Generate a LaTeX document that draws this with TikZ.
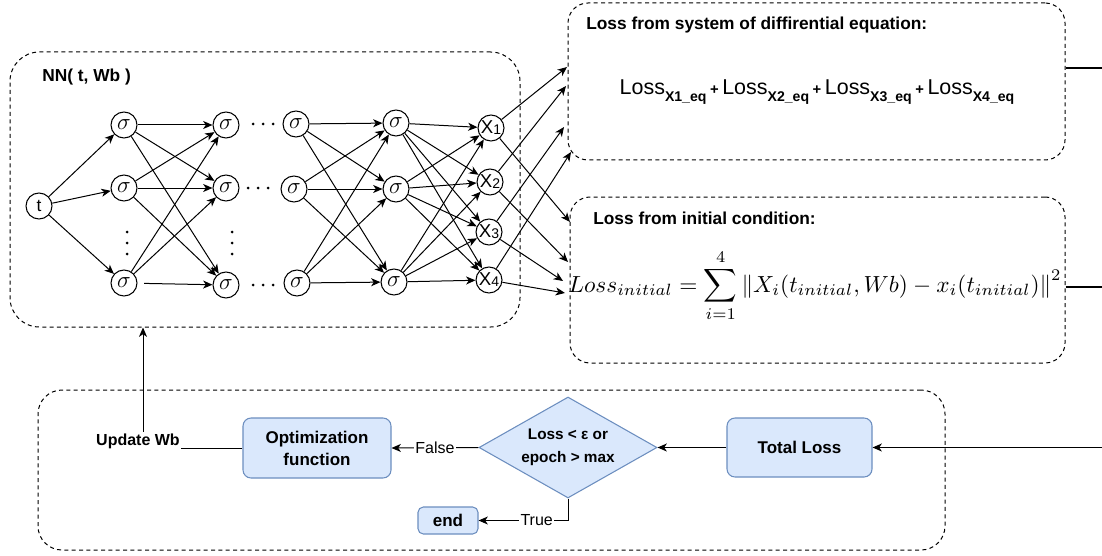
\documentclass[tikz,border=0pt]{standalone}
\usepackage{fontspec}
\setmainfont{Liberation Sans}
\usepackage{amsmath}
\usetikzlibrary{arrows.meta,shapes.geometric,calc}
\definecolor{bfill}{HTML}{DAE8FC}
\definecolor{bdraw}{HTML}{6C8EBF}
\newcommand{\lsub}[1]{\raisebox{-0.55ex}{\fontsize{10.5}{12}\selectfont\bfseries #1}}
\newcommand{\xn}[1]{{\fontsize{14}{15}\selectfont X}\raisebox{-0.1ex}{\fontsize{10.5}{11}\selectfont #1}}
\newcommand{\pls}{\,{\fontsize{11}{12}\selectfont\bfseries +}\,}
\newcommand{\sg}{{\fontsize{16}{18}\selectfont$\sigma$}}
\begin{document}
\begin{tikzpicture}[x=0.75pt,y=-0.75pt,
  neuron/.style={circle,draw,line width=0.8pt,minimum size=19.5pt,inner sep=0pt,font=\fontsize{13}{15}\selectfont},
  conn/.style={-{Stealth[length=7pt,width=6pt,inset=2pt]},line width=0.75pt},
  plain/.style={line width=0.8pt},
  grp/.style={draw,dash pattern=on 3pt off 2.5pt,line width=0.75pt,inner sep=0pt},
  fbox/.style={draw=bdraw,fill=bfill,rounded corners=6pt,line width=0.8pt,align=center,inner sep=0pt,font=\fontsize{12.75}{16.5}\selectfont\bfseries},
  elabel/.style={fill=white,inner sep=1pt,font=\fontsize{12}{14}\selectfont},
  ttl/.style={anchor=west,inner sep=0pt,font=\fontsize{13}{15}\selectfont\bfseries},
]
\useasboundingbox (0,0) rectangle (1102,556);

% group frames
\node[grp,rounded corners=22pt,minimum width=382.5pt,minimum height=206.25pt] (nnbox) at (265,189.5) {};
\node[grp,rounded corners=15pt,minimum width=372.75pt,minimum height=117.75pt] (lossA) at (816.5,81.5) {};
\node[grp,rounded corners=15pt,minimum width=371.25pt,minimum height=124.5pt] (lossB) at (817.5,280) {};
\node[grp,rounded corners=18pt,minimum width=680.25pt,minimum height=120pt] (loop) at (491.5,470) {};

% titles
\node[ttl] (nntitle) at (42,77) {NN( t, Wb )};
\node[ttl] (titleA) at (586,25) {Loss from system of diffirential equation:};
\node[ttl] (titleB) at (593,218) {Loss from initial condition:};

% formulas
\node[inner sep=0pt] (f1) at (817,92) {\resizebox{296pt}{!}{\fontsize{16}{18}\selectfont Loss\lsub{X1\_eq}\pls Loss\lsub{X2\_eq}\pls Loss\lsub{X3\_eq}\pls Loss\lsub{X4\_eq}}};
\node[inner sep=0pt] (f2) at (815,286) {\resizebox{370pt}{!}{$\displaystyle Loss_{initial}=\sum_{i=1}^{4}\left\|X_i(t_{initial},Wb)-x_i(t_{initial})\right\|^2$}};

% neurons
\node[neuron] (t) at (39,206) {t};
\node[neuron] (a1) at (124,125) {\sg};
\node[neuron] (a2) at (124,188) {\sg};
\node[neuron] (a3) at (124,283) {\sg};
\node[neuron] (b1) at (226,125) {\sg};
\node[neuron] (b2) at (226,188) {\sg};
\node[neuron] (b3) at (226,285) {\sg};
\node[neuron] (c1) at (296,124) {\sg};
\node[neuron] (c2) at (294,189) {\sg};
\node[neuron] (c3) at (297,283) {\sg};
\node[neuron] (d1) at (396,123) {\sg};
\node[neuron] (d2) at (396,189) {\sg};
\node[neuron] (d3) at (394,282) {\sg};
\node[neuron] (x1) at (491,128) {\xn{1}};
\node[neuron] (x2) at (490,182) {\xn{2}};
\node[neuron] (x3) at (489,232) {\xn{3}};
\node[neuron] (x4) at (489,280) {\xn{4}};

% ellipsis dots
\foreach \y in {232,243,254} {\fill (127,\y) circle (1.5); \fill (232,\y) circle (1.5);}
\foreach \x in {253,263,273} {\fill (\x,124) circle (1.5); \fill (\x,285) circle (1.5);}
\foreach \x in {248,258,268} {\fill (\x,188) circle (1.5);}

% connections
\foreach \d in {a1,a2,a3} \draw[conn] (t) -- (\d);
\foreach \s/\d in {a1/b1,a1/b2,a1/b3,a2/b1,a2/b2,a2/b3,a3/b1,a3/b2} \draw[conn] (\s) -- (\d);
\draw[conn,shorten <=5pt] (a3) -- (b3);
\foreach \s in {c1,c2,c3} \foreach \d in {d1,d2,d3} \draw[conn] (\s) -- (\d);
\foreach \s in {d1,d2,d3} \foreach \d in {x1,x2,x3,x4} \draw[conn] (\s) -- (\d);

% X to loss boxes
\coordinate (la1) at (567,67);
\coordinate (la2) at (566,86);
\coordinate (la3) at (564,127);
\coordinate (la4) at (571,152);
\coordinate (lb1) at (570,222);
\coordinate (lb2) at (568,262);
\coordinate (lb3) at (563,281);
\coordinate (lb4) at (565,293);
\draw[conn] (x1) -- (la1);
\draw[conn] (x2) -- (la2);
\draw[conn] (x3) -- (la3);
\draw[conn] (x4) -- (la4);
\draw[conn] (x1) -- (lb1);
\draw[conn] (x2) -- (lb2);
\draw[conn] (x3) -- (lb3);
\draw[conn] (x4) -- (lb4);

% right edge lines
\coordinate (r1) at (1102,68);
\coordinate (r2) at (1102,287);
\coordinate (r3) at (1102,447.5);
\draw[plain] (lossA.east |- r1) -- (r1);
\draw[plain] (lossB.east |- r2) -- (r2);

% bottom flow
\node[fbox,minimum width=108.75pt,minimum height=44.25pt] (total) at (799.5,447.5) {Total Loss};
\node[diamond,draw=bdraw,fill=bfill,line width=0.8pt,minimum width=133.5pt,minimum height=75.75pt,inner sep=0pt,
  label={[align=center,font=\fontsize{11.5}{17}\selectfont\bfseries]center:Loss < ε or\\epoch > max}] (dec) at (568,447.5) {};
\node[fbox,minimum width=111pt,minimum height=45pt] (opt) at (317,448) {Optimization\\function};
\node[fbox,rounded corners=4pt,minimum width=45pt,minimum height=20.25pt] (endb) at (448,520.5) {end};

\draw[conn] (r3) -- (total);
\draw[conn] (total) -- (dec);
\draw[conn] (dec.west) -- node[elabel]{False} (opt.east);
\coordinate (tc) at (568,520.5);
\draw[conn] (dec.south) -- (tc) -- node[elabel,pos=0.35]{True} (endb.east);
\coordinate (upd) at (143,448);
\draw[conn] (opt.west) -- (upd) -- (upd |- nnbox.south);
\node[fill=white,inner sep=1pt,font=\fontsize{12}{14}\selectfont\bfseries] (updl) at (138,441) {Update Wb};
\end{tikzpicture}
\end{document}
